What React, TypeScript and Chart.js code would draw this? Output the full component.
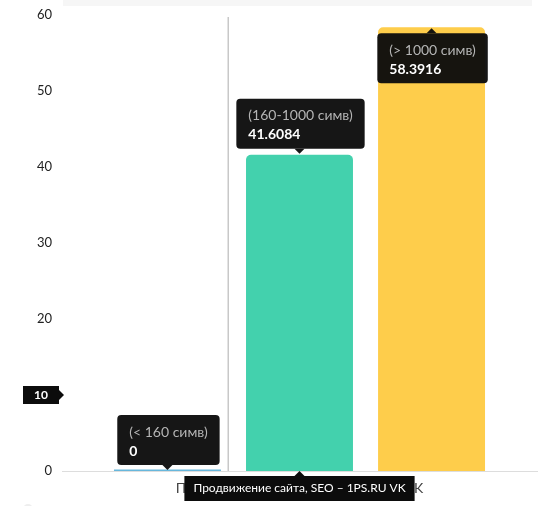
import React, { useEffect, useRef } from "react";
import { Chart, registerables } from "chart.js";

Chart.register(...registerables);

const categories = ["Продвижение сайта, SEO – 1PS.RU VK"];
const seriesNames = ["(< 160 симв)", "(160-1000 симв)", "(> 1000 симв)"];
const seriesValues = [[0], [41.6084], [58.3916]];
const seriesLabels = ["0", "41.6084", "58.3916"];
const seriesColors = ["#67b7dc", "#43d1ad", "#fecd4b"];
const yTicks = [0, 10, 20, 30, 40, 50, 60];
const cursorYValue = 10;
const cursorXFraction = 0.35;

const FONT = "Lato, 'Open Sans', sans-serif";

function roundRect(ctx: CanvasRenderingContext2D, x: number, y: number, w: number, h: number, r: number) {
  ctx.beginPath();
  ctx.moveTo(x + r, y);
  ctx.lineTo(x + w - r, y);
  ctx.quadraticCurveTo(x + w, y, x + w, y + r);
  ctx.lineTo(x + w, y + h - r);
  ctx.quadraticCurveTo(x + w, y + h, x + w - r, y + h);
  ctx.lineTo(x + r, y + h);
  ctx.quadraticCurveTo(x, y + h, x, y + h - r);
  ctx.lineTo(x, y + r);
  ctx.quadraticCurveTo(x, y, x + r, y);
  ctx.closePath();
}

const overlayPlugin = {
  id: "overlay",
  beforeDatasetsDraw(chart: any) {
    const ctx = chart.ctx as CanvasRenderingContext2D;
    const a = chart.chartArea;
    ctx.save();
    ctx.fillStyle = "#f6f6f6";
    ctx.fillRect(a.left + 1, 0, a.right - a.left - 6, 6);
    const cx = a.left + (a.right - a.left) * cursorXFraction;
    ctx.strokeStyle = "#c8c8c8";
    ctx.lineWidth = 1.5;
    ctx.beginPath();
    ctx.moveTo(cx, a.top + 2);
    ctx.lineTo(cx, a.bottom);
    ctx.stroke();
    ctx.fillStyle = "#eeeeee";
    ctx.beginPath();
    ctx.arc(28, chart.height + 3, 5, 0, Math.PI * 2);
    ctx.fill();
    ctx.restore();
  },
  afterDraw(chart: any) {
    const ctx = chart.ctx as CanvasRenderingContext2D;
    const a = chart.chartArea;
    ctx.save();
    const boxH = 50;
    const gap = 6;
    const arrow = 5;
    seriesNames.forEach((name, i) => {
      const meta = chart.getDatasetMeta(i);
      const el = meta.data[0];
      if (!el) return;
      const cx = el.x;
      const top = chart.scales.y.getPixelForValue(seriesValues[i][0]);
      ctx.font = `14px ${FONT}`;
      const w1 = ctx.measureText(name).width;
      ctx.font = `bold 14px ${FONT}`;
      const w2 = ctx.measureText(seriesLabels[i]).width;
      const boxW = Math.max(w1, w2) + 24;
      let bx = cx - boxW / 2 + 1;
      bx = Math.max(2, Math.min(chart.width - boxW - 2, bx));
      const below = top - gap - boxH < a.top;
      const by = below ? top + gap : top - gap - boxH;
      ctx.fillStyle = "rgba(12,12,12,0.96)";
      roundRect(ctx, bx, by, boxW, boxH, 4);
      ctx.fill();
      ctx.beginPath();
      if (below) {
        ctx.moveTo(cx - arrow, by);
        ctx.lineTo(cx, by - arrow);
        ctx.lineTo(cx + arrow, by);
      } else {
        ctx.moveTo(cx - arrow, by + boxH);
        ctx.lineTo(cx, by + boxH + arrow);
        ctx.lineTo(cx + arrow, by + boxH);
      }
      ctx.closePath();
      ctx.fill();
      ctx.textBaseline = "middle";
      ctx.textAlign = "left";
      ctx.fillStyle = "#b5b5b5";
      ctx.font = `14px ${FONT}`;
      ctx.fillText(name, bx + 12, by + 17);
      ctx.fillStyle = "#ffffff";
      ctx.font = `bold 14px ${FONT}`;
      ctx.fillText(seriesLabels[i], bx + 12, by + 36);
    });

    const yy = chart.scales.y.getPixelForValue(cursorYValue);
    const ylx = 23, ylw = 36, ylh = 18;
    ctx.fillStyle = "#0c0c0c";
    ctx.fillRect(ylx, yy - ylh / 2, ylw, ylh);
    ctx.beginPath();
    ctx.moveTo(ylx + ylw, yy - 5);
    ctx.lineTo(ylx + ylw + 5, yy);
    ctx.lineTo(ylx + ylw, yy + 5);
    ctx.closePath();
    ctx.fill();
    ctx.fillStyle = "#ffffff";
    ctx.font = `bold 12px ${FONT}`;
    ctx.textAlign = "center";
    ctx.textBaseline = "middle";
    ctx.fillText(String(cursorYValue), ylx + ylw / 2, yy + 0.5);

    const xs = chart.scales.x;
    const xc = xs.getPixelForValue(0);
    ctx.font = `12px ${FONT}`;
    const tw = ctx.measureText(categories[0]).width;
    const xw = tw + 18;
    const xbx = xc - xw / 2;
    const xby = a.bottom + 5;
    const xh = 25;
    ctx.fillStyle = "#0c0c0c";
    ctx.fillRect(xbx, xby, xw, xh);
    ctx.beginPath();
    ctx.moveTo(xc - 5, xby);
    ctx.lineTo(xc, xby - 5);
    ctx.lineTo(xc + 5, xby);
    ctx.closePath();
    ctx.fill();
    ctx.fillStyle = "#ffffff";
    ctx.textAlign = "center";
    ctx.fillText(categories[0], xc, xby + xh / 2);
    ctx.restore();
  },
};

export default function App() {
  const ref = useRef<HTMLCanvasElement | null>(null);
  useEffect(() => {
    if (!ref.current) return;
    const chart = new Chart(ref.current, {
      type: "bar",
      data: {
        labels: categories,
        datasets: seriesNames.map((name, i) => ({
          label: name,
          data: seriesValues[i],
          backgroundColor: seriesColors[i],
          borderRadius: i === 0 ? 0 : 5,
          borderSkipped: "bottom",
          minBarLength: i === 0 ? 1.5 : 0,
          categoryPercentage: 0.834,
          barPercentage: 0.81,
        })),
      },
      options: {
        responsive: false,
        animation: false,
        layout: { padding: { top: 15, right: 12, left: 0, bottom: 0 } },
        plugins: { legend: { display: false }, tooltip: { enabled: false } },
        scales: {
          x: {
            grid: { display: false, drawTicks: false },
            border: { display: true, color: "#dddddd", width: 1 },
            ticks: { color: "#444", font: { family: FONT, size: 14 }, padding: 9, maxRotation: 0 },
            afterFit: (s: any) => { s.height = 35; },
          },
          y: {
            min: 0,
            max: 60,
            afterBuildTicks: (s: any) => { s.ticks = yTicks.map((v) => ({ value: v })); },
            grid: { display: false, drawTicks: false },
            border: { display: false },
            ticks: { color: "#222", font: { family: FONT, size: 13 }, padding: 10 },
            afterFit: (s: any) => { s.width = 62; s.paddingTop = 0; s.paddingBottom = 0; },
          },
        },
      },
      plugins: [overlayPlugin],
    });
    return () => chart.destroy();
  }, []);
  return (
    <div style={{ position: "absolute", left: 0, top: 0, width: 549, height: 506, background: "#fff" }}>
      <canvas ref={ref} width={549} height={506} style={{ display: "block" }} />
    </div>
  );
}
